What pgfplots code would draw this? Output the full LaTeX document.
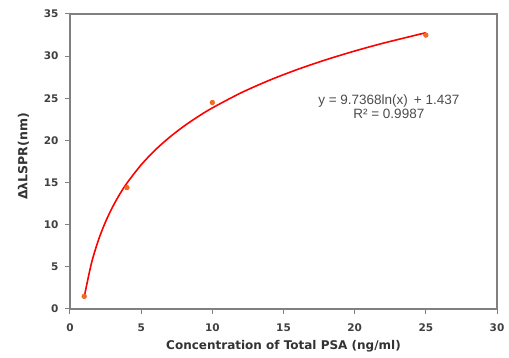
\documentclass[border=0pt]{standalone}
\usepackage{pgfplots}
\pgfplotsset{compat=1.18}
\usepackage{fontspec}
\setmainfont{DejaVu Sans}
\newfontfamily\eqfont{Liberation Sans}

\definecolor{axisgray}{RGB}{128,128,128}
\definecolor{markorange}{RGB}{240,110,30}

\begin{document}
\begin{tikzpicture}
\begin{axis}[
  scale only axis,
  width=427pt, height=295pt,
  xmin=0, xmax=30, ymin=0, ymax=35,
  xtick={0,5,...,30}, ytick={0,5,...,35},
  tick align=outside,
  major tick length=5pt,
  axis line style={axisgray, line width=1.3pt},
  every tick/.style={axisgray, line width=1pt},
  xtick pos=bottom, ytick pos=left,
  tick label style={font=\fontsize{10.5}{12}\selectfont\bfseries, text=black!75},
  xticklabel style={yshift=-6pt},
  yticklabel style={xshift=-3pt},
  /pgf/number format/assume math mode=true,
  xlabel={Concentration of Total PSA (ng/ml)},
  ylabel={ΔλLSPR(nm)},
  xlabel style={font=\fontsize{12}{14}\selectfont\bfseries, text=black!80, yshift=-2pt},
  ylabel style={font=\fontsize{12.5}{14}\selectfont\bfseries, text=black!80, yshift=8pt, xshift=5pt},
]
% logarithmic trend line y = 9.7368 ln(x) + 1.437, tabulated
\addplot[red, line width=1.6pt, smooth] coordinates {
  (1,1.437) (1.5,5.385) (2,8.186) (2.5,10.359) (3,12.134) (3.5,13.635)
  (4,14.935) (5,17.108) (6,18.883) (7,20.384) (8,21.684) (9,22.831)
  (10,23.857) (12,25.632) (14,27.133) (16,28.433) (18,29.580)
  (20,30.606) (22,31.534) (25,32.779)
};
% measured points
\addplot[only marks, mark=*, mark size=2.4pt, draw=markorange!80!red, fill=markorange] coordinates {
  (1,1.5) (4,14.4) (10,24.5) (25,32.5)
};
\node[font=\eqfont\fontsize{13.5}{14}\selectfont, text=black!70, align=center] at (axis cs:22.4,24.0)
  {y = 9.7368ln(x) \,+ 1.437\\R² = 0.9987};
\end{axis}
\path[use as bounding box] ([xshift=-70pt,yshift=-49pt]current axis.south west)
  rectangle ([xshift=12pt,yshift=14pt]current axis.north east);
\end{tikzpicture}
\end{document}
